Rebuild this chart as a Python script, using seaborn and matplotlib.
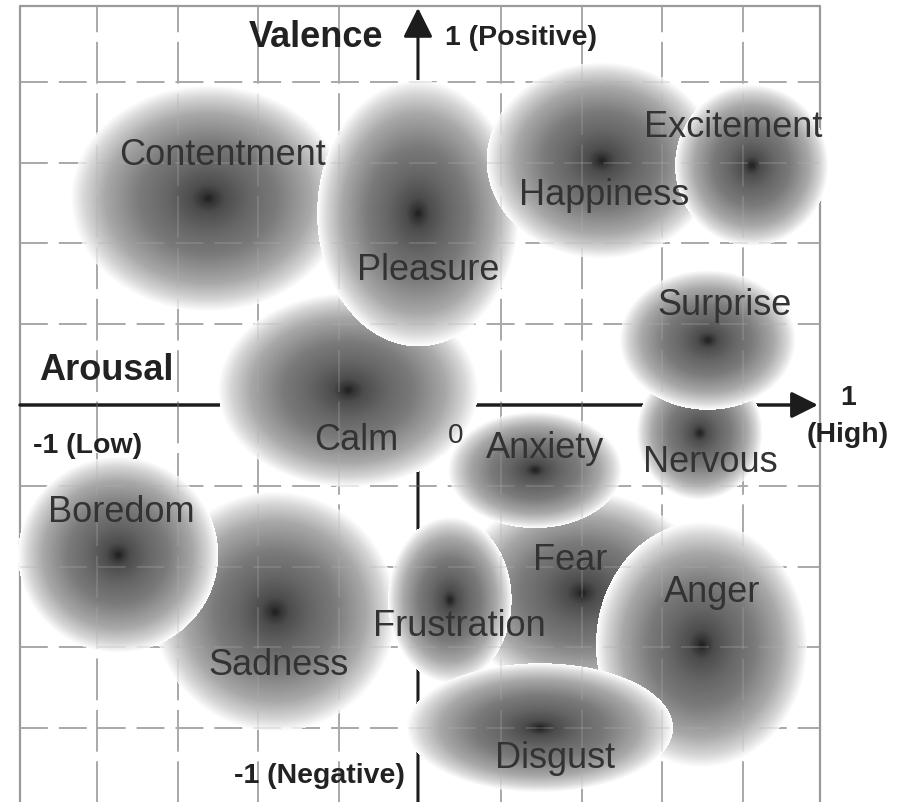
import numpy as np
import matplotlib
matplotlib.use("Agg")
import matplotlib.pyplot as plt
import seaborn as sns
import pandas as pd

# emotion blobs, listed from the bottom layer to the top layer
emotions = ["Fear", "Contentment", "Calm", "Sadness", "Boredom", "Pleasure", "Happiness",
            "Excitement", "Nervous", "Surprise", "Anxiety", "Anger", "Frustration", "Disgust"]
arousal = [0.401, -0.525, -0.178, -0.359, -0.748, -0.005, 0.450,
           0.822, 0.693, 0.713, 0.285, 0.698, 0.074, 0.297]
valence = [-0.465, 0.512, 0.037, -0.512, -0.371, 0.475, 0.606,
           0.594, -0.069, 0.161, -0.161, -0.594, -0.483, -0.800]
spread_a = [0.31, 0.34, 0.322, 0.30, 0.248, 0.25, 0.285,
            0.19, 0.156, 0.218, 0.215, 0.262, 0.153, 0.33]
spread_v = [0.25, 0.28, 0.24, 0.297, 0.243, 0.33, 0.243,
            0.20, 0.166, 0.173, 0.144, 0.304, 0.205, 0.16]
label_a = [0.371, -0.490, -0.158, -0.349, -0.740, 0.020, 0.455,
           0.775, 0.718, 0.755, 0.309, 0.723, 0.097, 0.334]
label_v = [-0.408, 0.594, -0.111, -0.668, -0.290, 0.309, 0.495,
           0.663, -0.166, 0.223, -0.131, -0.488, -0.572, -0.899]

grid_ticks = [-0.8, -0.6, -0.4, -0.2, 0.2, 0.4, 0.6, 0.8]

df = pd.DataFrame({"emotion": emotions, "arousal": arousal, "valence": valence,
                   "sa": spread_a, "sv": spread_v, "la": label_a, "lv": label_v})

sns.set_theme(style="white")
plt.rcParams["font.family"] = ["Liberation Sans", "DejaVu Sans"]
plt.rcParams["lines.scale_dashes"] = False

fig = plt.figure(figsize=(9, 8.02), dpi=100)
ax = fig.add_axes([0, 0, 1, 1])
xmin, xmax = -420 / 404, 480 / 404
ymin, ymax = (405 - 802) / 404, 405 / 404
ax.set_xlim(xmin, xmax)
ax.set_ylim(ymin, ymax)
ax.axis("off")

# background grid
gridcolor = "#a6a6a6"
for t in grid_ticks:
    ax.plot([t, t], [-1.1, 0.988], color=gridcolor, lw=1.4, dashes=(30, 7), zorder=1)
    ax.plot([-0.99, 0.99], [t, t], color=gridcolor, lw=1.4, dashes=(20, 8), zorder=1)
ax.plot([-0.99, -0.99, 0.99, 0.99], [-1.1, 0.988, 0.988, -1.1], color="#9a9a9a", lw=1.6, zorder=1)

# axes with arrows
ax.annotate("", xy=(0.985, 0), xytext=(-0.99, 0),
            arrowprops=dict(arrowstyle="-|>,head_length=0.4,head_width=0.2", lw=2.5,
                            color="#1c1c1c", mutation_scale=40, shrinkA=0, shrinkB=0), zorder=2)
ax.annotate("", xy=(-0.005, 0.983), xytext=(-0.005, -1.1),
            arrowprops=dict(arrowstyle="-|>,head_length=0.4,head_width=0.2", lw=2.2,
                            color="#1c1c1c", mutation_scale=45, shrinkA=0, shrinkB=0), zorder=2)

# radial gradient blobs: soft dark core, mid gray body, white rim
W, H = 900, 802
X, Y = np.meshgrid(np.linspace(xmin, xmax, W), np.linspace(ymax, ymin, H))
gray = np.ones((H, W))
alpha = np.zeros((H, W))
for _, r in df.iterrows():
    d = np.sqrt(((X - r.arousal) / r.sa) ** 2 + ((Y - r.valence) / r.sv) ** 2)
    inside = d < 1
    gray[inside] = np.interp(d[inside], [0, 0.12, 0.3, 0.5, 0.75, 0.9, 1.0],
                             [0.14, 0.3, 0.4, 0.48, 0.66, 0.84, 1.0])
    alpha[inside] = 1
img = np.dstack([gray, gray, gray, alpha])
ax.imshow(img, extent=[xmin, xmax, ymin, ymax], origin="upper", aspect="auto",
          interpolation="bilinear", zorder=3)

# faint grid showing through the blobs
for t in grid_ticks:
    ax.plot([t, t], [-1.1, 0.988], color="#b0b0b0", lw=1.2, dashes=(30, 7), alpha=0.3, zorder=4)
    ax.plot([-0.99, 0.99], [t, t], color="#b0b0b0", lw=1.2, dashes=(20, 8), alpha=0.3, zorder=4)

sns.scatterplot(data=df, x="arousal", y="valence", ax=ax, color="#111111", s=30,
                alpha=0.12, linewidth=0, legend=False, zorder=5)
ax.set_xlim(xmin, xmax)
ax.set_ylim(ymin, ymax)

for _, r in df.iterrows():
    ax.text(r.la, r.lv, r.emotion, fontsize=26, color="#333333", ha="center", va="baseline", zorder=6)

bold = dict(fontweight="bold", color="#222222", ha="center", va="baseline", zorder=6)
ax.text(-0.257, 0.886, "Valence", fontsize=26, **bold)
ax.text(0.250, 0.891, "1 (Positive)", fontsize=20.5, **bold)
ax.text(-0.777, 0.062, "Arousal", fontsize=26, **bold)
ax.text(-0.824, -0.119, "-1 (Low)", fontsize=20.5, **bold)
ax.text(-0.248, -0.936, "-1 (Negative)", fontsize=20.5, **bold)
ax.text(1.059, 0.0, "1", fontsize=20.5, **bold)
ax.text(1.059, -0.092, "(High)", fontsize=20.5, **bold)
ax.text(0.087, -0.094, "0", fontsize=20, color="#333333", ha="center", va="baseline", zorder=6)

fig.savefig("out.png", dpi=100)
